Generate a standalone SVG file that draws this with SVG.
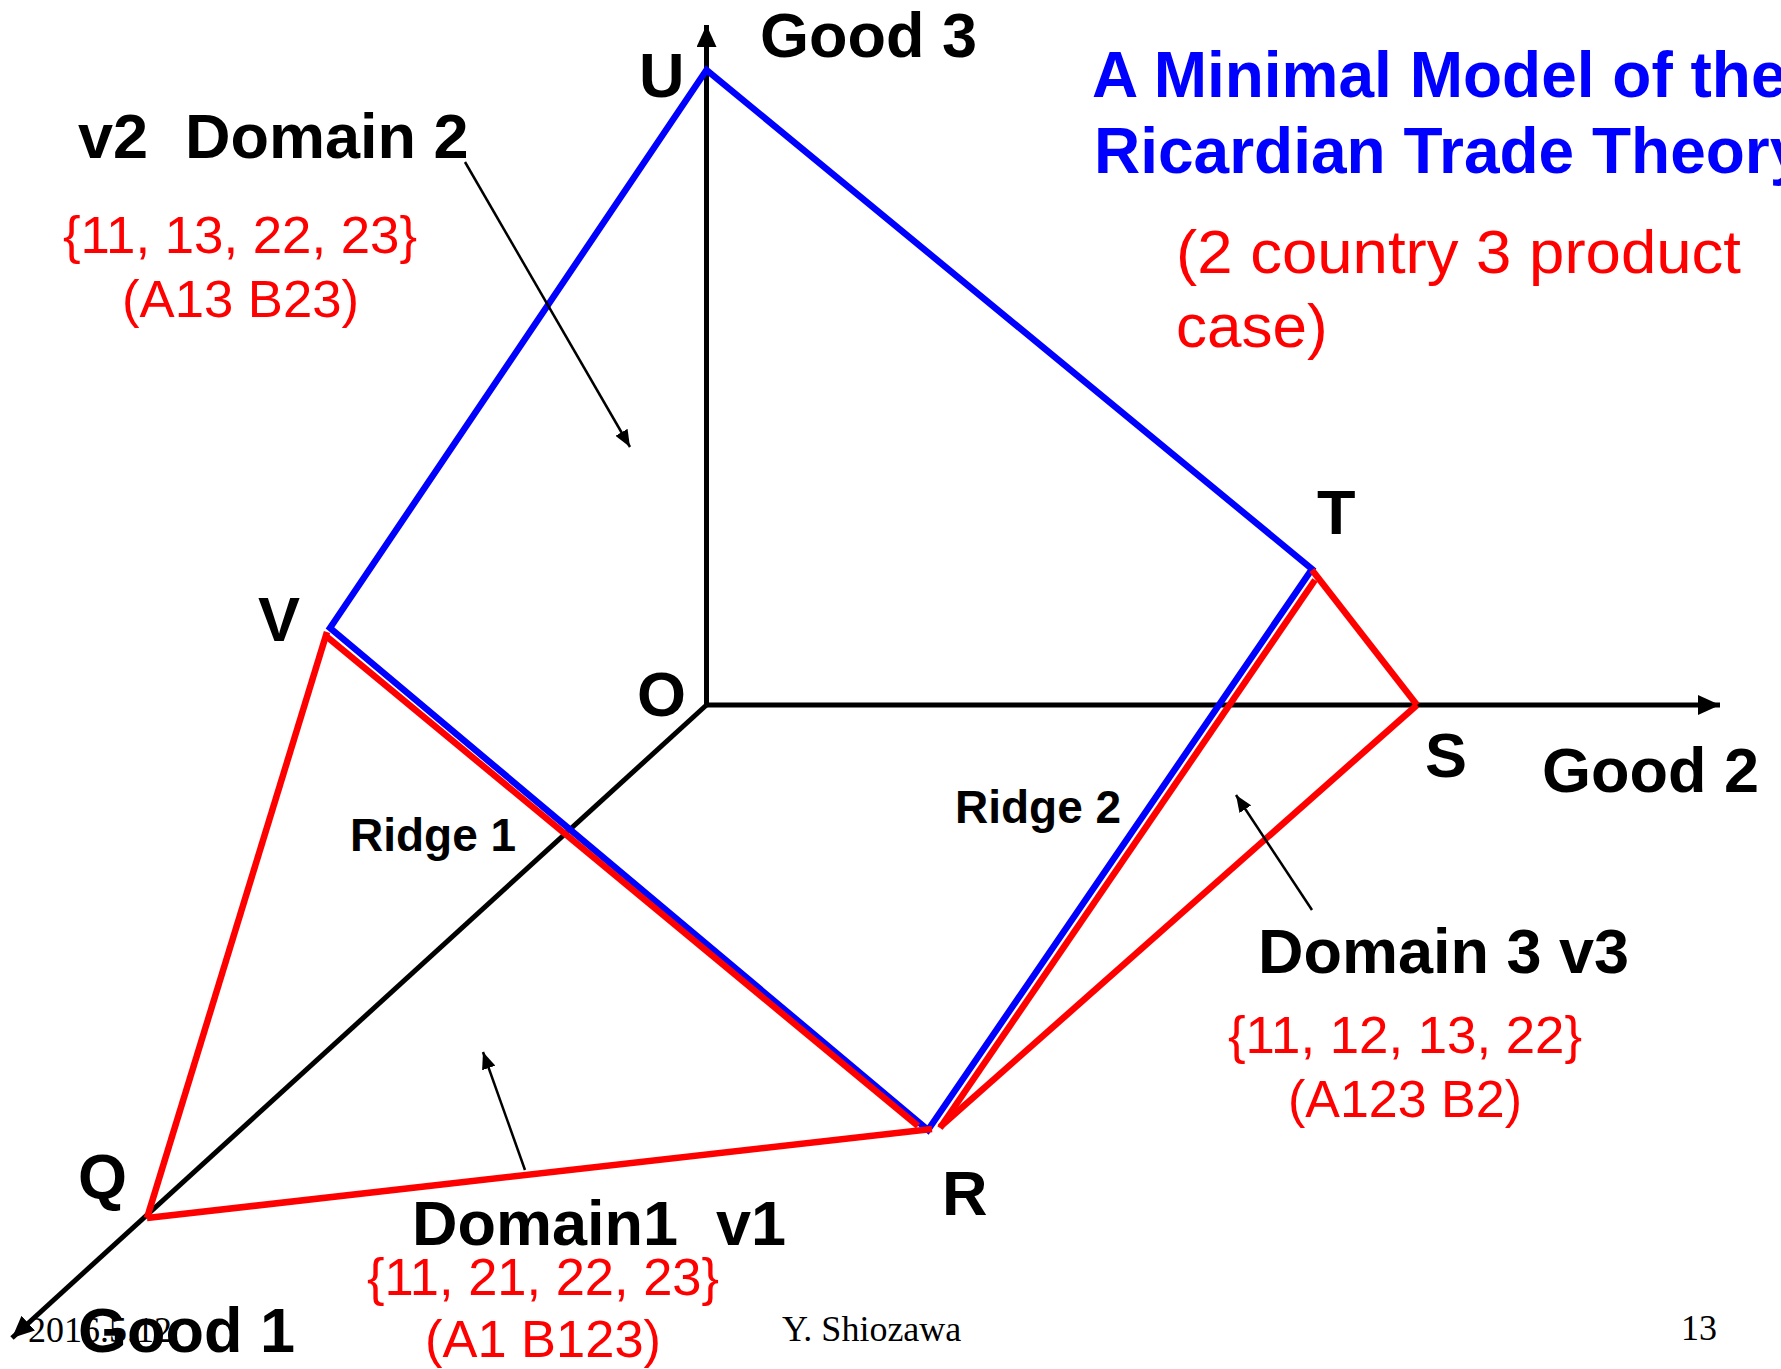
<svg xmlns="http://www.w3.org/2000/svg" width="1781" height="1369" viewBox="0 0 1781 1369">
<style>
.b{font-family:"Liberation Sans",Arial,sans-serif;font-weight:bold;fill:#000}
.big{font-size:63px}
.ridge{font-size:46px}
.red{font-family:"Liberation Sans",Arial,sans-serif;fill:#FF0000;font-size:52px}
.title{font-family:"Liberation Sans",Arial,sans-serif;font-weight:bold;fill:#0000FF;font-size:64px}
.foot{font-family:"Liberation Serif","Times New Roman",serif;font-size:36px;fill:#000}
.axis{stroke:#000;stroke-width:5;fill:none}
.blue{stroke:#0000FF;stroke-width:6.5;fill:none;stroke-linejoin:miter}
.redl{stroke:#FF0000;stroke-width:6.5;fill:none;stroke-linecap:butt}
.thin{stroke:#000;stroke-width:2.5;fill:none}
</style>
<defs>
<marker id="axhead" markerUnits="userSpaceOnUse" markerWidth="24" markerHeight="20" refX="22" refY="10" orient="auto">
<path d="M0,0 L22,10 L0,20 z" fill="#000"/>
</marker>
<marker id="thinhead" markerUnits="userSpaceOnUse" markerWidth="18" markerHeight="14" refX="17" refY="7" orient="auto">
<path d="M0,0 L17,7 L0,14 z" fill="#000"/>
</marker>
</defs>
<g id="connectors">
<line id="axis-good3" class="axis" x1="706.5" y1="705" x2="706.5" y2="25" marker-end="url(#axhead)"/>
<line id="axis-good2" class="axis" x1="706.5" y1="705" x2="1720" y2="705" marker-end="url(#axhead)"/>
<line id="axis-good1" class="axis" x1="706.5" y1="705" x2="12" y2="1338" marker-end="url(#axhead)"/>
<polygon id="blue-quad" class="blue" points="330,628 706.5,70 1312,569 928,1130"/>
<line class="redl" x1="147" y1="1218" x2="327" y2="632"/>
<line class="redl" x1="326" y1="636" x2="918" y2="1126"/>
<line class="redl" x1="147" y1="1218" x2="932" y2="1129"/>
<line class="redl" x1="940" y1="1128" x2="1315" y2="580"/>
<line class="redl" x1="1312" y1="570" x2="1417" y2="705"/>
<line class="redl" x1="1417" y1="705" x2="940" y2="1127"/>
<line class="thin" x1="465" y1="162" x2="630" y2="447" marker-end="url(#thinhead)"/>
<line class="thin" x1="1312" y1="910" x2="1236" y2="795" marker-end="url(#thinhead)"/>
<line class="thin" x1="525" y1="1170" x2="483" y2="1052" marker-end="url(#thinhead)"/>
</g>
<g id="title">
<text class="title" x="1092" y="97">A Minimal Model of the</text>
<text class="title" x="1094" y="173">Ricardian Trade Theory</text>
<text class="red" x="1176" y="273" style="font-size:62px" textLength="565" lengthAdjust="spacingAndGlyphs">(2 country 3 product</text>
<text class="red" x="1176" y="347" style="font-size:62px">case)</text>
</g>
<g id="axis-labels">
<text class="b big" x="760" y="57">Good 3</text>
<text class="b big" x="1542" y="792">Good 2</text>
<text class="b big" x="78" y="1352">Good 1</text>
</g>
<g id="vertices">
<text id="node-U" class="b big" x="639" y="97">U</text>
<text id="node-V" class="b big" x="258" y="641">V</text>
<text id="node-O" class="b big" x="637" y="716">O</text>
<text id="node-T" class="b big" x="1317" y="534">T</text>
<text id="node-S" class="b big" x="1425" y="777">S</text>
<text id="node-R" class="b big" x="942" y="1215">R</text>
<text id="node-Q" class="b big" x="78" y="1198">Q</text>
</g>
<g id="domain2">
<text class="b big" x="78" y="158">v2</text>
<text class="b big" x="185" y="158">Domain 2</text>
<text class="red" x="63" y="253" textLength="354" lengthAdjust="spacingAndGlyphs">{11, 13, 22, 23}</text>
<text class="red" x="122" y="317" textLength="237" lengthAdjust="spacingAndGlyphs">(A13 B23)</text>
</g>
<g id="domain3">
<text class="b big" x="1258" y="973">Domain 3 v3</text>
<text class="red" x="1228" y="1053" textLength="354" lengthAdjust="spacingAndGlyphs">{11, 12, 13, 22}</text>
<text class="red" x="1288" y="1117" textLength="234" lengthAdjust="spacingAndGlyphs">(A123 B2)</text>
</g>
<g id="domain1">
<text class="b big" x="412" y="1245">Domain1</text>
<text class="b big" x="716" y="1245">v1</text>
<text class="red" x="367" y="1295" textLength="352" lengthAdjust="spacingAndGlyphs">{11, 21, 22, 23}</text>
<text class="red" x="425" y="1357" textLength="236" lengthAdjust="spacingAndGlyphs">(A1 B123)</text>
</g>
<g id="ridges">
<text class="b ridge" x="350" y="851">Ridge 1</text>
<text class="b ridge" x="955" y="823">Ridge 2</text>
</g>
<g id="footer">
<text class="foot" x="28" y="1342">2016.5.12</text>
<text class="foot" x="782" y="1341">Y. Shiozawa</text>
<text class="foot" x="1681" y="1340">13</text>
</g>
</svg>
